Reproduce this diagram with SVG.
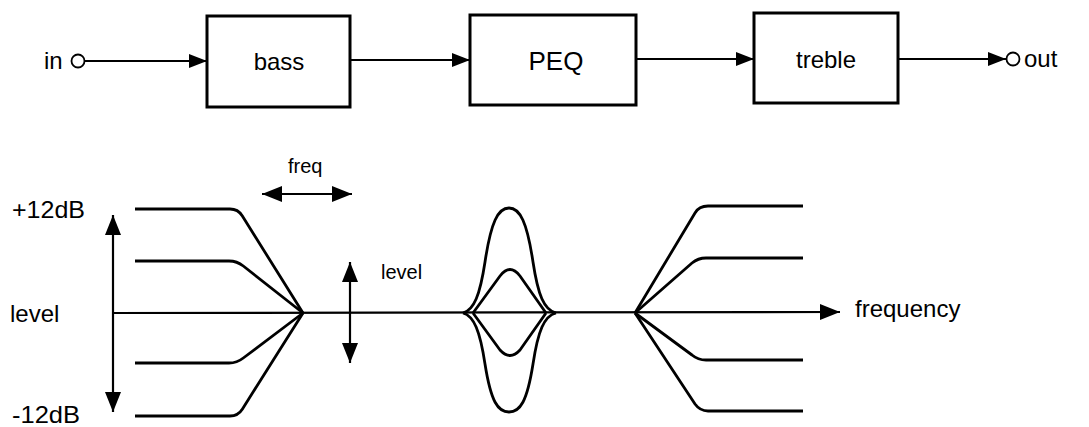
<svg xmlns="http://www.w3.org/2000/svg" width="1089" height="427" viewBox="0 0 1089 427">
<defs>
<marker id="ah" markerUnits="userSpaceOnUse" markerWidth="20" markerHeight="16" refX="18" refY="7" orient="auto-start-reverse">
<path d="M0,0 L18,7 L0,14 Z" fill="#000"/>
</marker>
<marker id="ahb" markerUnits="userSpaceOnUse" markerWidth="22" markerHeight="18" refX="20" refY="8" orient="auto-start-reverse">
<path d="M0,0 L20,8 L0,16 Z" fill="#000"/>
</marker>
</defs>
<style>
text{font-family:"Liberation Sans",Arial,Helvetica,sans-serif;fill:#000}
.box{fill:#fff;stroke:#000;stroke-width:3}
.ln{fill:none;stroke:#000;stroke-width:2.2}
.cv{fill:none;stroke:#000;stroke-width:2.8;stroke-linejoin:round}
.big{font-size:24px}
.sm{font-size:20px}
.lbl{font-size:24px;text-anchor:middle}
</style>
<rect width="1089" height="427" fill="#fff"/>

<g id="connectors">
<line class="ln" x1="85" y1="61" x2="207" y2="61" marker-end="url(#ah)"/>
<line class="ln" x1="350" y1="60" x2="470" y2="60" marker-end="url(#ah)"/>
<line class="ln" x1="636" y1="59" x2="754" y2="59" marker-end="url(#ah)"/>
<line class="ln" x1="898" y1="59" x2="1006" y2="59" marker-end="url(#ah)"/>
</g>

<g id="in">
<circle cx="78" cy="61" r="6.5" fill="#fff" stroke="#000" stroke-width="1.8"/>
<text class="big" x="44" y="69">in</text>
</g>
<g id="bass">
<rect class="box" x="207" y="16" width="143" height="91"/>
<text class="lbl" x="279" y="70">bass</text>
</g>
<g id="peq">
<rect class="box" x="470" y="15" width="166" height="90"/>
<text class="lbl" x="556" y="70" style="font-size:26px">PEQ</text>
</g>
<g id="treble">
<rect class="box" x="754" y="13" width="144" height="90"/>
<text class="lbl" x="826" y="68">treble</text>
</g>
<g id="out">
<circle cx="1013" cy="59" r="6.5" fill="#fff" stroke="#000" stroke-width="1.8"/>
<text class="big" x="1024" y="67">out</text>
</g>

<g id="response">
<line class="ln" x1="113" y1="215" x2="113" y2="412" marker-start="url(#ahb)" marker-end="url(#ahb)"/>
<line class="ln" x1="113" y1="313" x2="840" y2="312" marker-end="url(#ahb)"/>
<line class="ln" x1="262" y1="194" x2="352" y2="194" marker-start="url(#ahb)" marker-end="url(#ahb)"/>
<line class="ln" x1="350" y1="262" x2="350" y2="363" marker-start="url(#ahb)" marker-end="url(#ahb)"/>

<path class="cv" d="M135,209 L230,209 Q238,209 242.2,215.8 L303,313"/>
<path class="cv" d="M135,261 L229,261 Q237,261 243.3,266 L303,313"/>
<path class="cv" d="M135,363 L229,363 Q237,363 243.3,358 L303,313"/>
<path class="cv" d="M135,416 L230,416 Q238,416 242.3,409.2 L303,313"/>

<path class="cv" d="M463,313 C474,310 480,295 485,262 C491,222 498,208 509,208 C520,208 527,222 533,262 C538,295 544,310 556,313"/>
<path class="cv" d="M473,313 L500,276 Q510,263 520,276 L546,313"/>
<path class="cv" d="M473,313 L500,350 Q510,361 520,350 L546,313"/>
<path class="cv" d="M463,313 C474,316 480,331 485,364 C491,402 498,412 509,412 C520,412 527,402 533,364 C538,331 544,316 556,313"/>

<path class="cv" d="M635,313 L695,213 Q699,206 708,206 L803,206"/>
<path class="cv" d="M635,313 L692,263 Q698,258 706,258 L803,258"/>
<path class="cv" d="M635,313 L692,355 Q698,360 706,360 L803,360"/>
<path class="cv" d="M635,313 L695,404 Q700,411 708,411 L803,411"/>

<text class="big" x="12" y="218" textLength="73" lengthAdjust="spacingAndGlyphs">+12dB</text>
<text class="big" x="10" y="322">level</text>
<text class="big" x="12" y="423" textLength="68" lengthAdjust="spacingAndGlyphs">-12dB</text>
<text class="sm" x="288" y="173">freq</text>
<text class="sm" x="381" y="279">level</text>
<text class="big" x="855" y="317">frequency</text>
</g>
</svg>
